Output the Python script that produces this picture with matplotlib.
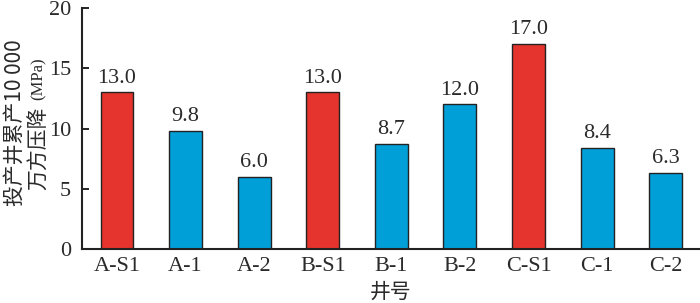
import matplotlib
matplotlib.use("Agg")
import matplotlib.pyplot as plt

wells = ["A-S1", "A-1", "A-2", "B-S1", "B-1", "B-2", "C-S1", "C-1", "C-2"]
values = [13.0, 9.8, 6.0, 13.0, 8.7, 12.0, 17.0, 8.4, 6.3]
value_labels = ["13.0", "9.8", "6.0", "13.0", "8.7", "12.0", "17.0", "8.4", "6.3"]
yticks = [0, 5, 10, 15, 20]

red = "#E5332D"
blue = "#009FD8"
colors = [red if "S" in w else blue for w in wells]
txt = "#2a2a2a"
serif = ["Liberation Serif", "Noto Sans CJK SC"]
cjk = ["Noto Sans CJK SC", "Liberation Serif"]

fig = plt.figure(figsize=(7.0, 3.03), dpi=100)
ax = fig.add_axes([82/700, 1 - 249/303, (700-82)/700, (249-8)/303])

x = list(range(len(wells)))
ax.bar(x, values, width=0.48, color=colors, edgecolor="#222222", linewidth=1.0, zorder=2)
for xi, v, lab in zip(x, values, value_labels):
    ax.text(xi, v + 0.4, lab, ha="center", va="bottom", fontsize=16,
            family=serif, color=txt)

ax.set_xlim(-0.51, 8.5)
ax.set_ylim(0, 20)
ax.set_yticks(yticks)
ax.set_yticklabels([str(t) for t in yticks], family=serif, fontsize=16, color=txt)
ax.set_xticks(x)
ax.set_xticklabels(wells, family=serif, fontsize=16, color=txt)
ax.tick_params(axis="y", direction="in", length=5, width=1.2, pad=8)
ax.tick_params(axis="x", length=0, pad=6)
for s in ["top", "right"]:
    ax.spines[s].set_visible(False)
for s in ["left", "bottom"]:
    ax.spines[s].set_linewidth(1.5)
    ax.spines[s].set_color("#222222")

ax.set_xlabel("井号", family=cjk, fontsize=15, color=txt, labelpad=3)
fig.text(15/700, 1 - 123/303, "投产井累产10 000", rotation=90, ha="center", va="center",
         family=cjk, fontsize=15, color=txt)
fig.text(39/700, 1 - 190/303, "万方压降", rotation=90, ha="center", va="bottom",
         family=cjk, fontsize=15, color=txt)
fig.text(39/700, 1 - 100/303, "(MPa)", rotation=90, ha="center", va="bottom",
         family=serif, fontsize=12, color=txt)

fig.savefig("out.png", dpi=100)
